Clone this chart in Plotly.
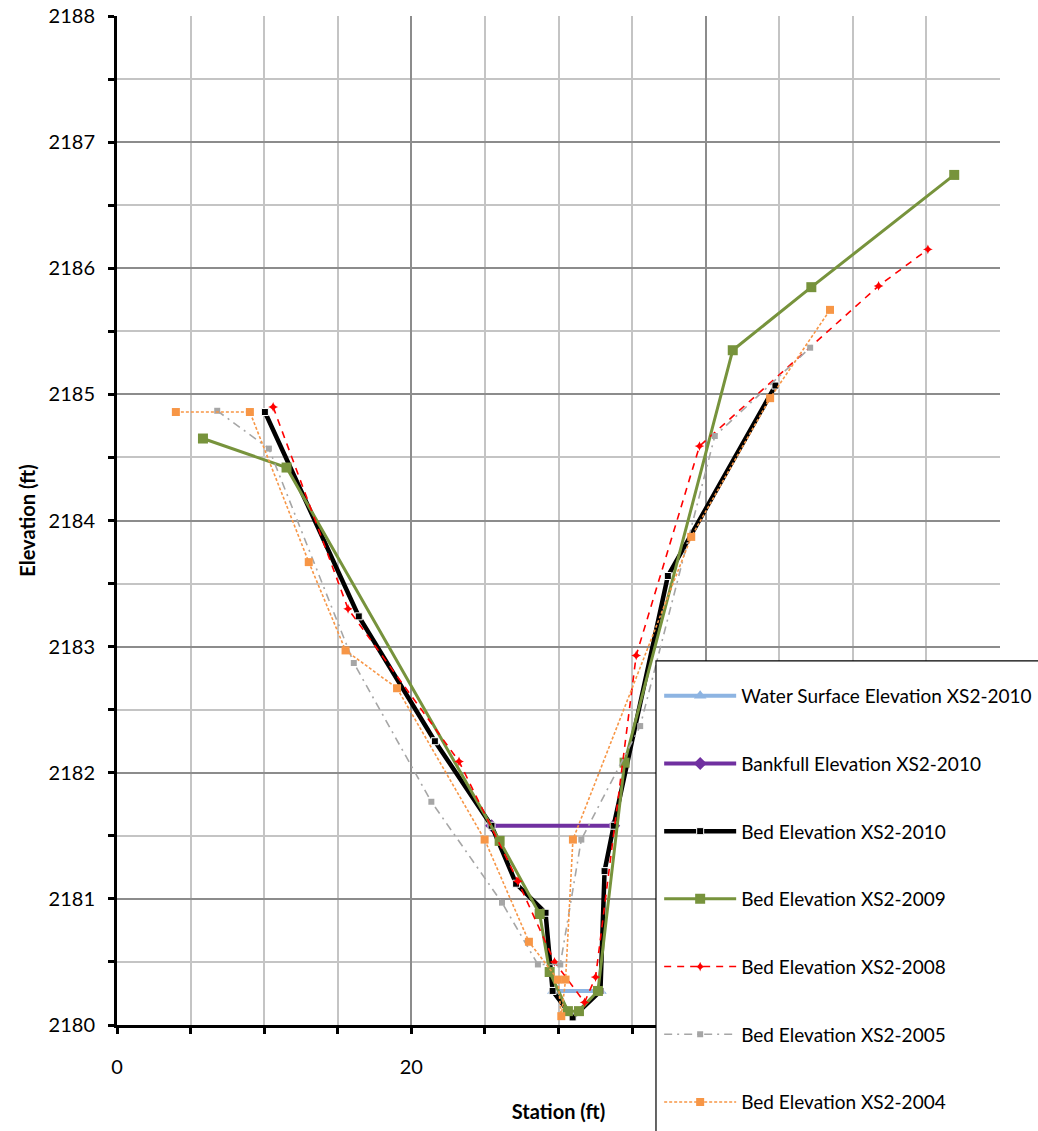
import plotly.graph_objects as go

# Cross-section XS2 survey data: station (ft) vs elevation (ft)
ws_2010_station = [29.65, 32.85]
ws_2010_elev = [2180.27, 2180.27]

bankfull_2010_station = [25.45, 33.75]
bankfull_2010_elev = [2181.58, 2181.58]

bed_2010_station = [10.05, 16.43, 21.6, 25.45, 27.12, 29.12, 29.6, 30.96, 32.85, 33.13, 33.75, 37.43, 44.74]
bed_2010_elev = [2184.86, 2183.24, 2182.25, 2181.58, 2181.12, 2180.89, 2180.27, 2180.06, 2180.27, 2181.22, 2181.58, 2183.56, 2185.07]

bed_2009_station = [5.84, 11.52, 26.0, 28.72, 29.4, 30.64, 31.39, 32.68, 34.49, 41.84, 47.18, 56.89]
bed_2009_elev = [2184.65, 2184.42, 2181.46, 2180.88, 2180.42, 2180.11, 2180.11, 2180.27, 2182.08, 2185.35, 2185.85, 2186.74]

bed_2008_station = [10.61, 15.7, 23.24, 27.24, 29.73, 31.77, 32.52, 35.28, 39.58, 51.75, 55.1]
bed_2008_elev = [2184.90, 2183.30, 2182.09, 2181.14, 2180.50, 2180.18, 2180.38, 2182.93, 2184.59, 2185.86, 2186.15]

bed_2005_station = [6.81, 10.32, 16.09, 21.36, 26.16, 28.6, 30.12, 31.55, 35.55, 40.62, 47.1]
bed_2005_elev = [2184.87, 2184.57, 2182.87, 2181.77, 2180.97, 2180.48, 2180.48, 2181.47, 2182.37, 2184.67, 2185.37]

bed_2004_station = [4.0, 9.03, 13.03, 15.53, 19.03, 24.98, 27.99, 29.96, 30.19, 30.48, 30.98, 39.02, 44.38, 48.45]
bed_2004_elev = [2184.86, 2184.86, 2183.67, 2182.97, 2182.67, 2181.47, 2180.66, 2180.36, 2180.07, 2180.36, 2181.47, 2183.87, 2184.97, 2185.67]

x_tick_values = [0, 20, 40, 60]
y_tick_values = [2180, 2181, 2182, 2183, 2184, 2185, 2186, 2187, 2188]

FONT = "Lato"

series = [
    dict(name="Water Surface Elevation XS2-2010", x=ws_2010_station, y=ws_2010_elev,
         line=dict(color="#8DB4E2", width=4),
         marker=dict(symbol="triangle-up", size=11, color="#8DB4E2")),
    dict(name="Bankfull Elevation XS2-2010", x=bankfull_2010_station, y=bankfull_2010_elev,
         line=dict(color="#7030A0", width=4),
         marker=dict(symbol="diamond", size=10, color="#7030A0")),
    dict(name="Bed Elevation XS2-2010", x=bed_2010_station, y=bed_2010_elev,
         line=dict(color="#000000", width=4.5),
         marker=dict(symbol="square", size=7, color="#000000", line=dict(color="white", width=1))),
    dict(name="Bed Elevation XS2-2009", x=bed_2009_station, y=bed_2009_elev,
         line=dict(color="#77933C", width=3),
         marker=dict(symbol="square", size=10, color="#77933C")),
    dict(name="Bed Elevation XS2-2008", x=bed_2008_station, y=bed_2008_elev,
         line=dict(color="#FF0000", width=1.6, dash="7px,6px"),
         marker=dict(symbol="star-diamond", size=7, color="#FF0000")),
    dict(name="Bed Elevation XS2-2005", x=bed_2005_station, y=bed_2005_elev,
         line=dict(color="#A6A6A6", width=1.6, dash="8px,5px,2px,5px"),
         marker=dict(symbol="square", size=6, color="#A6A6A6")),
    dict(name="Bed Elevation XS2-2004", x=bed_2004_station, y=bed_2004_elev,
         line=dict(color="#F79646", width=1.6, dash="3px,2px"),
         marker=dict(symbol="square", size=8, color="#F79646")),
]

fig = go.Figure()
for i, s in enumerate(series):
    fig.add_trace(go.Scatter(
        x=s["x"], y=s["y"], name=s["name"], mode="lines+markers",
        line=s["line"], marker=s["marker"], legendgroup=f"g{i}",
    ))

axis_common = dict(
    showline=True, linecolor="black", linewidth=3, mirror=False,
    ticks="outside", ticklen=6, tickwidth=3, tickcolor="black",
    zeroline=False, gridwidth=1.5, automargin=False,
    tickfont=dict(family=FONT, size=20, color="black"),
)

fig.update_xaxes(
    range=[0, 60], tickvals=x_tick_values, ticktext=[str(v) for v in x_tick_values],
    gridcolor="#8C8C8C",
    minor=dict(dtick=5, showgrid=True, gridcolor="#C4C4C4", gridwidth=1.5,
               ticks="outside", ticklen=6, tickwidth=3, tickcolor="black"),
    title=dict(text="<b>Station (ft)</b>", font=dict(family=FONT, size=20, color="black"), standoff=28),
    ticklabelstandoff=16,
    **axis_common,
)
fig.update_yaxes(
    range=[2180, 2188], tickvals=y_tick_values, ticktext=[str(v) for v in y_tick_values],
    gridcolor="#8C8C8C",
    minor=dict(dtick=0.5, showgrid=True, gridcolor="#C4C4C4", gridwidth=1.5,
               ticks="outside", ticklen=6, tickwidth=3, tickcolor="black"),
    title=dict(text="<b>Elevation (ft)</b>", font=dict(family=FONT, size=20, color="black"), standoff=8),
    ticklabelstandoff=9,
    **axis_common,
)

# white legend panel running off the lower-right corner of the page
fig.add_shape(type="rect", xref="paper", yref="paper",
              x0=0.6104, x1=1.1, y0=-0.2, y1=0.3608,
              fillcolor="white", line=dict(color="black", width=1.2), layer="above")

fig.update_layout(
    width=1038, height=1131,
    margin=dict(l=117, r=38, t=16, b=106, autoexpand=False),
    plot_bgcolor="white", paper_bgcolor="white",
    font=dict(family=FONT, size=20, color="black"),
    legend=dict(
        x=0.614, y=0.345, xanchor="left", yanchor="top",
        bgcolor="rgba(0,0,0,0)", borderwidth=0,
        traceorder="grouped", tracegroupgap=40, itemwidth=72,
        font=dict(family=FONT, size=19, color="black"),
    ),
)

fig.write_html("out.html")
